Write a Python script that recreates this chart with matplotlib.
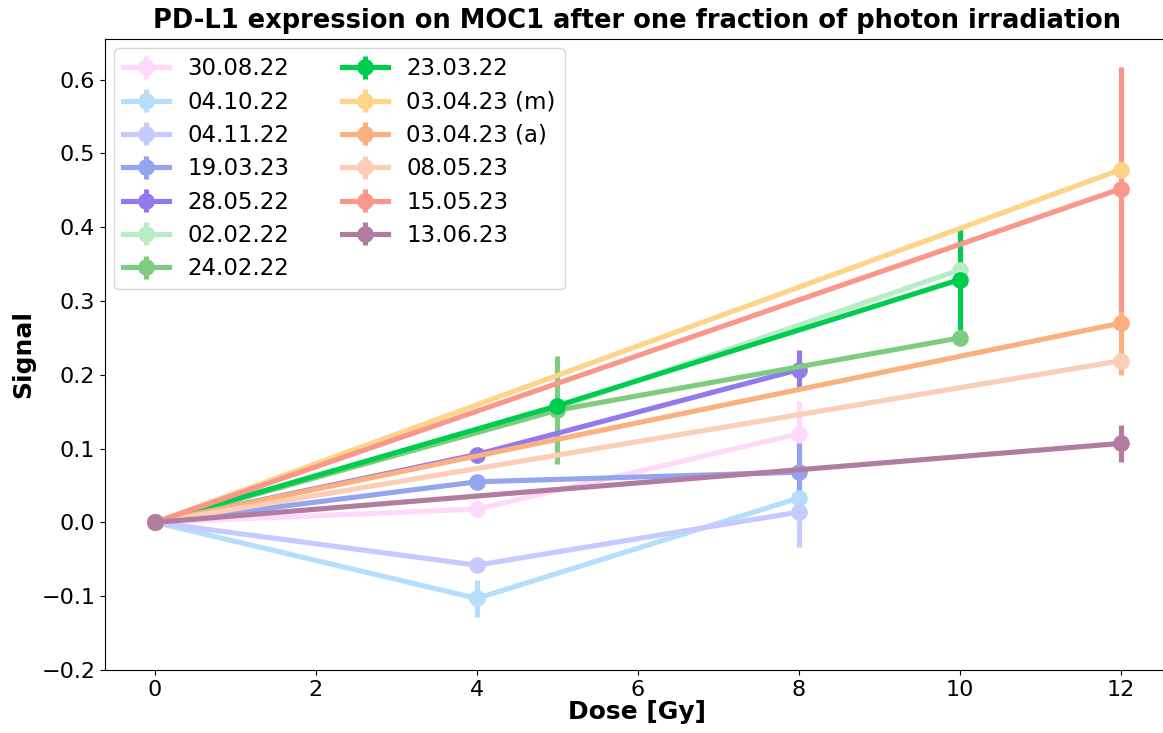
import matplotlib
matplotlib.use("Agg")
import matplotlib.pyplot as plt

labels = ["30.08.22", "04.10.22", "04.11.22", "19.03.23", "28.05.22", "02.02.22",
          "24.02.22", "23.03.22", "03.04.23 (m)", "03.04.23 (a)", "08.05.23",
          "15.05.23", "13.06.23"]
colors = ["#ffd9fb", "#b5defc", "#c6caff", "#95a4ee", "#9379ee", "#b7edc6",
          "#7fcb7f", "#00cc4f", "#fdd488", "#fbb07f", "#fdcdb8", "#f8978a", "#b17ca0"]
doses = [[0, 4, 8], [0, 4, 8], [0, 4, 8], [0, 4, 8], [0, 4, 8], [0, 5, 10],
         [0, 5, 10], [0, 5, 10], [0, 12], [0, 12], [0, 12], [0, 12], [0, 12]]
signals = [[0, 0.018, 0.120], [0, -0.103, 0.033], [0, -0.058, 0.014],
           [0, 0.055, 0.068], [0, 0.092, 0.207], [0, 0.155, 0.342],
           [0, 0.152, 0.250], [0, 0.158, 0.329], [0, 0.478], [0, 0.270],
           [0, 0.219], [0, 0.452], [0, 0.107]]
errors = [[0, 0.005, 0.045], [0, 0.025, 0.008], [0, 0.005, 0.048],
          [0, 0.005, 0.040], [0, 0.005, 0.027], [0, 0.005, 0.005],
          [0, 0.073, 0.005], [0, 0.005, 0.068], [0, 0.005], [0, 0.070],
          [0, 0.005], [0, 0.165], [0, 0.025]]

W, H = 1163, 733
fig = plt.figure(figsize=(W / 100, H / 100), dpi=100)
ax = fig.add_axes([105 / W, 1 - 670 / H, (1169 - 105) / W, (670 - 39) / H])

for lab, c, x, y, e in zip(labels, colors, doses, signals, errors):
    ax.errorbar(x, y, yerr=e, color=c, lw=3.7, elinewidth=3.7, marker='o',
                markersize=11, capsize=0, label=lab)

ax.set_xlim(-0.62, 12.6)
ax.set_ylim(-0.2, 0.655)
ax.set_xticks(range(0, 13, 2))
ax.set_yticks([-0.2, -0.1, 0.0, 0.1, 0.2, 0.3, 0.4, 0.5, 0.6])
ax.tick_params(labelsize=16)
ax.set_xlabel("Dose [Gy]", fontsize=18, fontweight='bold', labelpad=0)
ax.set_ylabel("Signal", fontsize=18, fontweight='bold')
ax.set_title("PD-L1 expression on MOC1 after one fraction of photon irradiation",
             fontsize=18.5, fontweight='bold', pad=8)
ax.legend(ncol=2, loc='upper left', fontsize=16.5, columnspacing=2.3,
          labelspacing=0.45, borderaxespad=0.4)

fig.savefig("out.png", dpi=100)
